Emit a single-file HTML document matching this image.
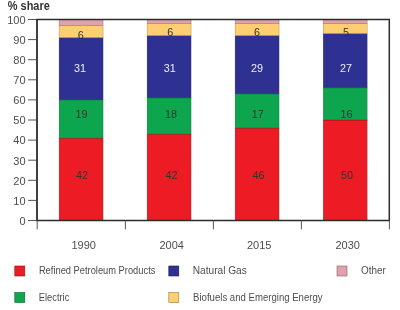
<!DOCTYPE html><html><head><meta charset="utf-8"><style>html,body{margin:0;padding:0;background:#fff;width:400px;height:310px;overflow:hidden;position:relative}svg{display:block}text{font-family:"Liberation Sans",sans-serif}</style></head><body><svg width="400" height="310" viewBox="0 0 400 310"><rect width="400" height="310" fill="#fff"/><rect x="59.1" y="138.09" width="44.0" height="82.41" fill="#ED1C24" stroke="rgba(0,0,0,0.35)" stroke-width="0.5"/><rect x="59.1" y="99.90" width="44.0" height="38.19" fill="#0DA64F" stroke="rgba(0,0,0,0.35)" stroke-width="0.5"/><rect x="59.1" y="37.59" width="44.0" height="62.31" fill="#2E3192" stroke="rgba(0,0,0,0.35)" stroke-width="0.5"/><rect x="59.1" y="25.53" width="44.0" height="12.06" fill="#FECF72" stroke="rgba(0,0,0,0.35)" stroke-width="0.5"/><rect x="59.1" y="19.50" width="44.0" height="6.03" fill="#E2A1AD" stroke="rgba(0,0,0,0.35)" stroke-width="0.5"/><rect x="147.1" y="134.07" width="44.0" height="86.43" fill="#ED1C24" stroke="rgba(0,0,0,0.35)" stroke-width="0.5"/><rect x="147.1" y="97.89" width="44.0" height="36.18" fill="#0DA64F" stroke="rgba(0,0,0,0.35)" stroke-width="0.5"/><rect x="147.1" y="35.58" width="44.0" height="62.31" fill="#2E3192" stroke="rgba(0,0,0,0.35)" stroke-width="0.5"/><rect x="147.1" y="23.52" width="44.0" height="12.06" fill="#FECF72" stroke="rgba(0,0,0,0.35)" stroke-width="0.5"/><rect x="147.1" y="19.50" width="44.0" height="4.02" fill="#E2A1AD" stroke="rgba(0,0,0,0.35)" stroke-width="0.5"/><rect x="235.1" y="128.04" width="44.0" height="92.46" fill="#ED1C24" stroke="rgba(0,0,0,0.35)" stroke-width="0.5"/><rect x="235.1" y="93.87" width="44.0" height="34.17" fill="#0DA64F" stroke="rgba(0,0,0,0.35)" stroke-width="0.5"/><rect x="235.1" y="35.58" width="44.0" height="58.29" fill="#2E3192" stroke="rgba(0,0,0,0.35)" stroke-width="0.5"/><rect x="235.1" y="23.52" width="44.0" height="12.06" fill="#FECF72" stroke="rgba(0,0,0,0.35)" stroke-width="0.5"/><rect x="235.1" y="19.50" width="44.0" height="4.02" fill="#E2A1AD" stroke="rgba(0,0,0,0.35)" stroke-width="0.5"/><rect x="323.2" y="120.00" width="44.0" height="100.50" fill="#ED1C24" stroke="rgba(0,0,0,0.35)" stroke-width="0.5"/><rect x="323.2" y="87.84" width="44.0" height="32.16" fill="#0DA64F" stroke="rgba(0,0,0,0.35)" stroke-width="0.5"/><rect x="323.2" y="33.57" width="44.0" height="54.27" fill="#2E3192" stroke="rgba(0,0,0,0.35)" stroke-width="0.5"/><rect x="323.2" y="23.52" width="44.0" height="10.05" fill="#FECF72" stroke="rgba(0,0,0,0.35)" stroke-width="0.5"/><rect x="323.2" y="19.50" width="44.0" height="4.02" fill="#E2A1AD" stroke="rgba(0,0,0,0.35)" stroke-width="0.5"/><line x1="36" y1="19.5" x2="390" y2="19.5" stroke="#2b2b2b" stroke-width="1.4"/><line x1="36" y1="220.6" x2="390" y2="220.6" stroke="#2b2b2b" stroke-width="1.5"/><line x1="37" y1="19" x2="37" y2="221" stroke="#2b2b2b" stroke-width="1.8"/><line x1="389.3" y1="19" x2="389.3" y2="221" stroke="#2b2b2b" stroke-width="1.5"/><line x1="28" y1="220.50" x2="37" y2="220.50" stroke="#444" stroke-width="0.9"/><line x1="28" y1="200.40" x2="37" y2="200.40" stroke="#444" stroke-width="0.9"/><line x1="28" y1="180.30" x2="37" y2="180.30" stroke="#444" stroke-width="0.9"/><line x1="28" y1="160.20" x2="37" y2="160.20" stroke="#444" stroke-width="0.9"/><line x1="28" y1="140.10" x2="37" y2="140.10" stroke="#444" stroke-width="0.9"/><line x1="28" y1="120.00" x2="37" y2="120.00" stroke="#444" stroke-width="0.9"/><line x1="28" y1="99.90" x2="37" y2="99.90" stroke="#444" stroke-width="0.9"/><line x1="28" y1="79.80" x2="37" y2="79.80" stroke="#444" stroke-width="0.9"/><line x1="28" y1="59.70" x2="37" y2="59.70" stroke="#444" stroke-width="0.9"/><line x1="28" y1="39.60" x2="37" y2="39.60" stroke="#444" stroke-width="0.9"/><line x1="28" y1="19.50" x2="37" y2="19.50" stroke="#444" stroke-width="0.9"/><line x1="37.2" y1="220" x2="37.2" y2="229.4" stroke="#444" stroke-width="0.9"/><line x1="125.4" y1="220" x2="125.4" y2="229.4" stroke="#444" stroke-width="0.9"/><line x1="213.4" y1="220" x2="213.4" y2="229.4" stroke="#444" stroke-width="0.9"/><line x1="301.4" y1="220" x2="301.4" y2="229.4" stroke="#444" stroke-width="0.9"/><line x1="389.4" y1="220" x2="389.4" y2="229.4" stroke="#444" stroke-width="0.9"/></svg><svg style="position:absolute;left:0;top:0;will-change:transform" width="400" height="310" viewBox="0 0 400 310"><text x="25.6" y="224.80" font-size="11" fill="#4d4d4d" text-anchor="end">0</text><text x="25.6" y="204.70" font-size="11" fill="#4d4d4d" text-anchor="end">10</text><text x="25.6" y="184.60" font-size="11" fill="#4d4d4d" text-anchor="end">20</text><text x="25.6" y="164.50" font-size="11" fill="#4d4d4d" text-anchor="end">30</text><text x="25.6" y="144.40" font-size="11" fill="#4d4d4d" text-anchor="end">40</text><text x="25.6" y="124.30" font-size="11" fill="#4d4d4d" text-anchor="end">50</text><text x="25.6" y="104.20" font-size="11" fill="#4d4d4d" text-anchor="end">60</text><text x="25.6" y="84.10" font-size="11" fill="#4d4d4d" text-anchor="end">70</text><text x="25.6" y="64.00" font-size="11" fill="#4d4d4d" text-anchor="end">80</text><text x="25.6" y="43.90" font-size="11" fill="#4d4d4d" text-anchor="end">90</text><text x="25.6" y="23.80" font-size="11" fill="#4d4d4d" text-anchor="end">100</text><text x="7.8" y="10.2" font-size="11.9" font-weight="bold" fill="#333" textLength="42" lengthAdjust="spacingAndGlyphs">% share</text><text x="83.7" y="248.7" font-size="11" fill="#4d4d4d" text-anchor="middle">1990</text><text x="171.7" y="248.7" font-size="11" fill="#4d4d4d" text-anchor="middle">2004</text><text x="259.2" y="248.7" font-size="11" fill="#4d4d4d" text-anchor="middle">2015</text><text x="347.7" y="248.7" font-size="11" fill="#4d4d4d" text-anchor="middle">2030</text><text x="82.1" y="178.6" font-size="10.8" fill="#333" text-anchor="middle">42</text><text x="81.5" y="117.6" font-size="10.8" fill="#333" text-anchor="middle">19</text><text x="80.1" y="71.9" font-size="10.8" fill="#eeeef6" text-anchor="middle">31</text><text x="80.8" y="38.6" font-size="10.8" fill="#333" text-anchor="middle">6</text><text x="171.6" y="178.8" font-size="10.8" fill="#333" text-anchor="middle">42</text><text x="171" y="117.7" font-size="10.8" fill="#333" text-anchor="middle">18</text><text x="169.7" y="71.9" font-size="10.8" fill="#eeeef6" text-anchor="middle">31</text><text x="170.2" y="35.7" font-size="10.8" fill="#333" text-anchor="middle">6</text><text x="258.4" y="178.8" font-size="10.8" fill="#333" text-anchor="middle">46</text><text x="257.7" y="117.6" font-size="10.8" fill="#333" text-anchor="middle">17</text><text x="257.0" y="71.9" font-size="10.8" fill="#eeeef6" text-anchor="middle">29</text><text x="257.1" y="35.7" font-size="10.8" fill="#333" text-anchor="middle">6</text><text x="347.1" y="178.8" font-size="10.8" fill="#333" text-anchor="middle">50</text><text x="346.5" y="117.7" font-size="10.8" fill="#333" text-anchor="middle">16</text><text x="345.9" y="72.0" font-size="10.8" fill="#eeeef6" text-anchor="middle">27</text><text x="346.0" y="35.7" font-size="10.8" fill="#333" text-anchor="middle">5</text><rect x="14.8" y="266" width="10" height="10" fill="#ED1C24" stroke="#8e1015" stroke-width="0.6"/><text x="38.9" y="274.4" font-size="11.4" fill="#4d4d4d" textLength="116.5" lengthAdjust="spacingAndGlyphs">Refined Petroleum Products</text><rect x="168.8" y="266" width="10" height="10" fill="#2E3192" stroke="#1b1d57" stroke-width="0.6"/><text x="192.8" y="274.4" font-size="11.4" fill="#4d4d4d" textLength="54" lengthAdjust="spacingAndGlyphs">Natural Gas</text><rect x="337" y="266" width="10" height="10" fill="#E2A1AD" stroke="#876067" stroke-width="0.6"/><text x="361.0" y="274.4" font-size="11.4" fill="#4d4d4d" textLength="24.8" lengthAdjust="spacingAndGlyphs">Other</text><rect x="14.8" y="292.5" width="10" height="10" fill="#0DA64F" stroke="#07632f" stroke-width="0.6"/><text x="38.8" y="300.8" font-size="11.4" fill="#4d4d4d" textLength="30.5" lengthAdjust="spacingAndGlyphs">Electric</text><rect x="168.8" y="292.5" width="10" height="10" fill="#FECF72" stroke="#987c44" stroke-width="0.6"/><text x="193.1" y="300.8" font-size="11.4" fill="#4d4d4d" textLength="129.5" lengthAdjust="spacingAndGlyphs">Biofuels and Emerging Energy</text></svg></body></html>
